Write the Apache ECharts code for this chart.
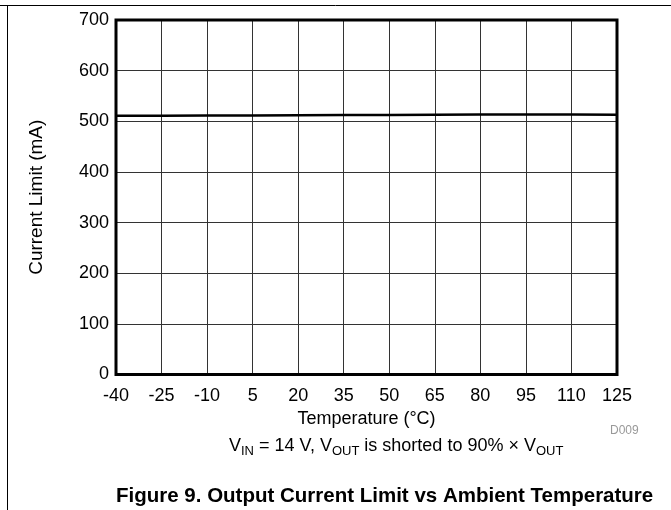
<!DOCTYPE html>
<html>
<head>
<meta charset="utf-8">
<style>
  html, body { margin: 0; padding: 0; background: #fff; }
  #chart { width: 671px; height: 510px; }
</style>
<script src="https://cdn.jsdelivr.net/npm/echarts@6/dist/echarts.min.js"></script>
</head>
<body>
<div id="chart"></div>
<script>
// Ambient temperature (°C) and measured output current limit (mA)
const temperatures = [-40, -25, -10, 5, 20, 35, 50, 65, 80, 95, 110, 125];
const currentLimit = [511, 511, 511.3, 511.5, 512, 512.2, 512.5, 513, 513.5, 513.5, 513.2, 513];
const xTicks = [-40, -25, -10, 5, 20, 35, 50, 65, 80, 95, 110, 125];
const yTicks = [0, 100, 200, 300, 400, 500, 600, 700];

const FONT = 'Liberation Sans, Arial, sans-serif';

const chart = echarts.init(document.getElementById('chart'), null, { renderer: 'canvas' });

chart.setOption({
  animation: false,
  backgroundColor: '#fff',
  grid: { left: 116, right: 54, top: 20, bottom: 135.5, containLabel: false },
  xAxis: {
    type: 'value',
    min: xTicks[0],
    max: xTicks[xTicks.length - 1],
    interval: 15,
    name: 'Temperature (°C)',
    nameLocation: 'middle',
    nameGap: 30,
    nameTextStyle: { fontFamily: FONT, fontSize: 18, color: '#000' },
    axisLine: { show: false },
    axisTick: { show: false },
    axisLabel: { fontFamily: FONT, fontSize: 18, color: '#000', margin: 13 },
    splitLine: { show: true, lineStyle: { color: '#333', width: 1 } }
  },
  yAxis: {
    type: 'value',
    min: yTicks[0],
    max: yTicks[yTicks.length - 1],
    interval: 100,
    name: 'Current Limit (mA)',
    nameLocation: 'middle',
    nameGap: 70,
    nameTextStyle: { fontFamily: FONT, fontSize: 19, color: '#000' },
    axisLine: { show: false },
    axisTick: { show: false },
    axisLabel: { fontFamily: FONT, fontSize: 18, color: '#000', margin: 7 },
    splitLine: { show: true, lineStyle: { color: '#333', width: 1 } }
  },
  series: [
    {
      type: 'line',
      data: temperatures.map((t, i) => [t, currentLimit[i]]),
      showSymbol: false,
      lineStyle: { color: '#000', width: 2.5 },
      z: 5
    },
    {
      // heavy frame around the plotting area
      type: 'line',
      data: [],
      markArea: {
        silent: true,
        itemStyle: { color: 'rgba(0,0,0,0)', borderColor: '#000', borderWidth: 3 },
        data: [[{ xAxis: xTicks[0], yAxis: yTicks[0] }, { xAxis: xTicks[xTicks.length - 1], yAxis: yTicks[yTicks.length - 1] }]]
      },
      z: 6
    }
  ],
  graphic: [
    // page border lines
    { type: 'line', shape: { x1: 0, y1: 5.5, x2: 671, y2: 5.5 }, style: { stroke: '#000', lineWidth: 1 } },
    { type: 'line', shape: { x1: 7.5, y1: 5, x2: 7.5, y2: 510 }, style: { stroke: '#000', lineWidth: 1 } },
    {
      type: 'text', left: 610, top: 425,
      style: { text: 'D009', fontFamily: FONT, fontSize: 12, fill: '#999' }
    },
    {
      type: 'text', left: 229, top: 434,
      style: {
        text: 'V{sub|IN} = 14 V, V{sub|OUT} is shorted to 90% × V{sub|OUT}',
        fontFamily: FONT, fontSize: 18, fill: '#000', lineHeight: 24,
        rich: {
          sub: { fontFamily: FONT, fontSize: 13, fill: '#000', verticalAlign: 'bottom', lineHeight: 18 }
        }
      }
    },
    {
      type: 'text', left: 116, top: 486,
      style: {
        text: 'Figure 9. Output Current Limit vs Ambient Temperature',
        fontFamily: FONT, fontSize: 20.5, fontWeight: 'bold', fill: '#000'
      }
    }
  ]
});
</script>
</body>
</html>
